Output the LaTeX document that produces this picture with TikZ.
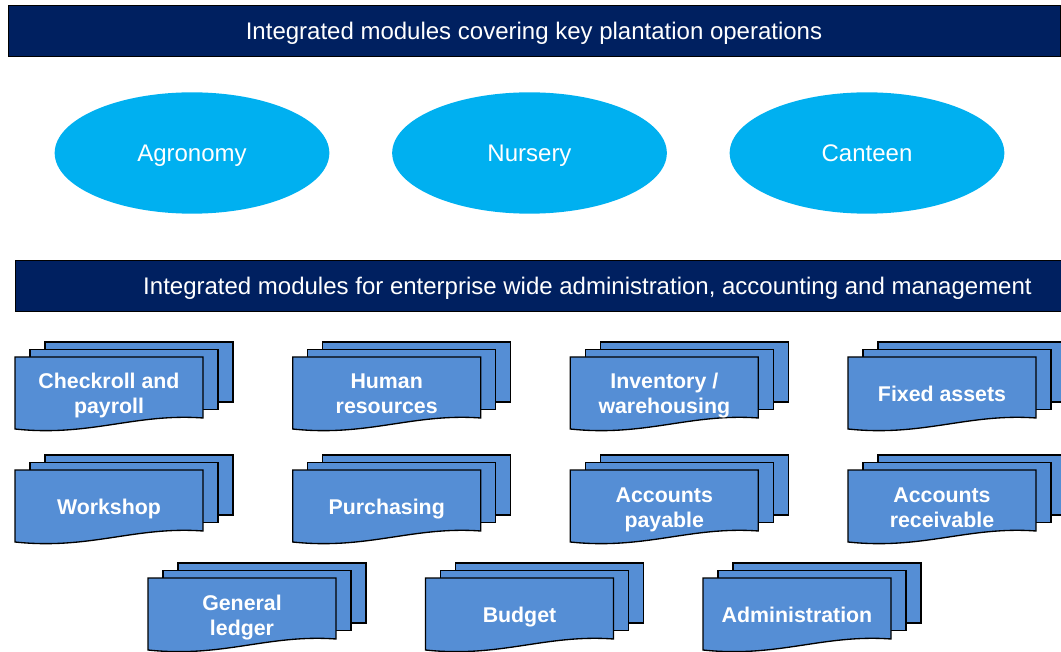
\documentclass[tikz,border=0pt]{standalone}
\usepackage{fontspec}
\setmainfont{Liberation Sans}
\definecolor{bannernavy}{RGB}{0, 32, 96}
\definecolor{opscyan}{RGB}{0, 176, 240}
\definecolor{modblue}{RGB}{85, 142, 213}
\usetikzlibrary{shapes.geometric, positioning}

\begin{document}
\begin{tikzpicture}[
  x=0.75pt, y=-0.75pt,
  banner/.style={draw=black, fill=bannernavy, text=white, minimum height=38.25pt, inner sep=0pt, text height=13.5pt, text depth=0pt, font=\fontsize{18}{21.6}\selectfont},
  opsellipse/.style={ellipse, fill=opscyan, text=white, minimum width=206pt, minimum height=91pt, inner sep=0pt, text height=13.5pt, text depth=0pt, font=\fontsize{18}{21.6}\selectfont},
  modtext/.style={text=white, align=center, inner sep=0pt, font=\fontsize{16}{18.75}\selectfont\bfseries},
  modpage/.style={draw=black, line width=1pt, fill=modblue},
  pics/modstack/.style={code={
    \draw[modpage] (30,-15) rectangle ++(188,60);
    \draw[modpage] (15,-7.5) rectangle ++(188,60);
    \draw[modpage] (0,0) -- (188,0) -- (188,61) .. controls (120,56) and (75,80) .. (0,72) -- cycle;
    \node[modtext] (-label) at (94,39.5) {\strut#1\strut};
  }}
]
  \clip (0,0) rectangle (1061,652);

  % Plantation operations
  \node[banner, minimum width=789pt] (opsbanner) at (534,30.5) {Integrated modules covering key plantation operations};
  \node[opsellipse] (agronomy) at (192,153) {Agronomy};
  \node[opsellipse] (nursery) at (529.5,153) {Nursery};
  \node[opsellipse] (canteen) at (867,153) {Canteen};

  % Enterprise administration
  \node[banner, minimum width=858.75pt] (adminbanner) at (587.5,285.5) {Integrated modules for enterprise wide administration, accounting and management};

  \pic (checkroll) at (15,357) {modstack={Checkroll and\\payroll}};
  \pic (hr) at (292.7,357) {modstack={Human\\resources}};
  \pic (inventory) at (570.3,357) {modstack={Inventory /\\warehousing}};
  \pic (fixedassets) at (848,357) {modstack={Fixed assets}};

  \pic (workshop) at (15,470) {modstack={Workshop}};
  \pic (purchasing) at (292.7,470) {modstack={Purchasing}};
  \pic (payable) at (570.3,470) {modstack={Accounts\\payable}};
  \pic (receivable) at (848,470) {modstack={Accounts\\receivable}};

  \pic (ledger) at (148,578) {modstack={General\\ledger}};
  \pic (budget) at (425.5,578) {modstack={Budget}};
  \pic (administration) at (703,578) {modstack={Administration}};
\end{tikzpicture}
\end{document}
